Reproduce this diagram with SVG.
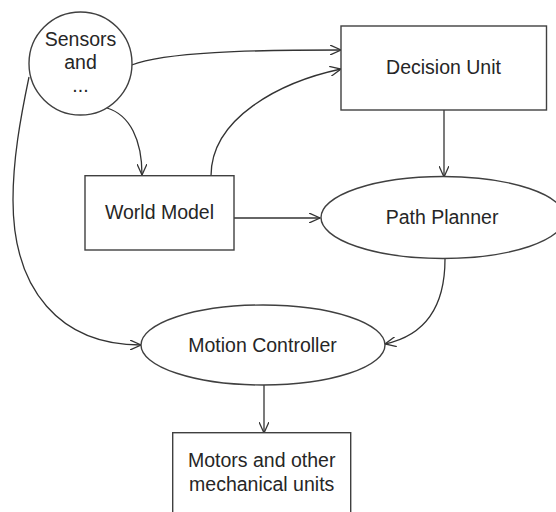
<svg xmlns="http://www.w3.org/2000/svg" width="556" height="512" viewBox="0 0 556 512">
  <defs>
    <marker id="arrow" viewBox="0 0 12 10" markerWidth="12" markerHeight="10" refX="11" refY="5" orient="auto" markerUnits="userSpaceOnUse">
      <path d="M0,0 L11,5 L0,10" fill="none" stroke="#333" stroke-width="1.3"/>
    </marker>
  </defs>
  <style>
    .shape { fill: #fff; stroke: #404040; stroke-width: 1.4; }
    .edge { fill: none; stroke: #333; stroke-width: 1.3; marker-end: url(#arrow); }
    .label { font-family: "Liberation Sans", Arial, sans-serif; font-size: 19.5px; fill: #262626; text-anchor: middle; }
  </style>
  <rect width="556" height="512" fill="#fff"/>

  <g id="connectors">
    <path class="edge" d="M131.7,65 C165,52 250,50 341,50"/>
    <path class="edge" d="M211,176 C211,118 280,82 341,69"/>
    <path class="edge" d="M107,108 C130,115 142,140 142,175"/>
    <path class="edge" d="M29,77 C20,120 13,160 13,200 C13,290 60,345 141,345"/>
    <path class="edge" d="M445,259 C445,310 422,336 385,344"/>
    <path class="edge" d="M444,110 L444,177"/>
    <path class="edge" d="M234,218 L320,218"/>
    <path class="edge" d="M264,385 L264,433"/>
  </g>

  <g id="sensors">
    <circle class="shape" cx="80.5" cy="63.5" r="51.5"/>
    <text class="label" x="80.5" y="46">Sensors</text>
    <text class="label" x="80.5" y="69">and</text>
    <text class="label" x="80.5" y="92">...</text>
  </g>

  <g id="decision-unit">
    <rect class="shape" x="341" y="26" width="205.5" height="84"/>
    <text class="label" x="443.5" y="74">Decision Unit</text>
  </g>

  <g id="world-model">
    <rect class="shape" x="85" y="175.7" width="149" height="74.3"/>
    <text class="label" x="159.5" y="219">World Model</text>
  </g>

  <g id="path-planner">
    <ellipse class="shape" cx="443" cy="217.5" rx="122" ry="41"/>
    <text class="label" x="442" y="223.5">Path Planner</text>
  </g>

  <g id="motion-controller">
    <ellipse class="shape" cx="263" cy="345" rx="122" ry="40"/>
    <text class="label" x="262.5" y="351.5">Motion Controller</text>
  </g>

  <g id="motors">
    <rect class="shape" x="172.7" y="432.7" width="178" height="90"/>
    <text class="label" x="261.7" y="466.5">Motors and other</text>
    <text class="label" x="261.7" y="491">mechanical units</text>
  </g>
</svg>
